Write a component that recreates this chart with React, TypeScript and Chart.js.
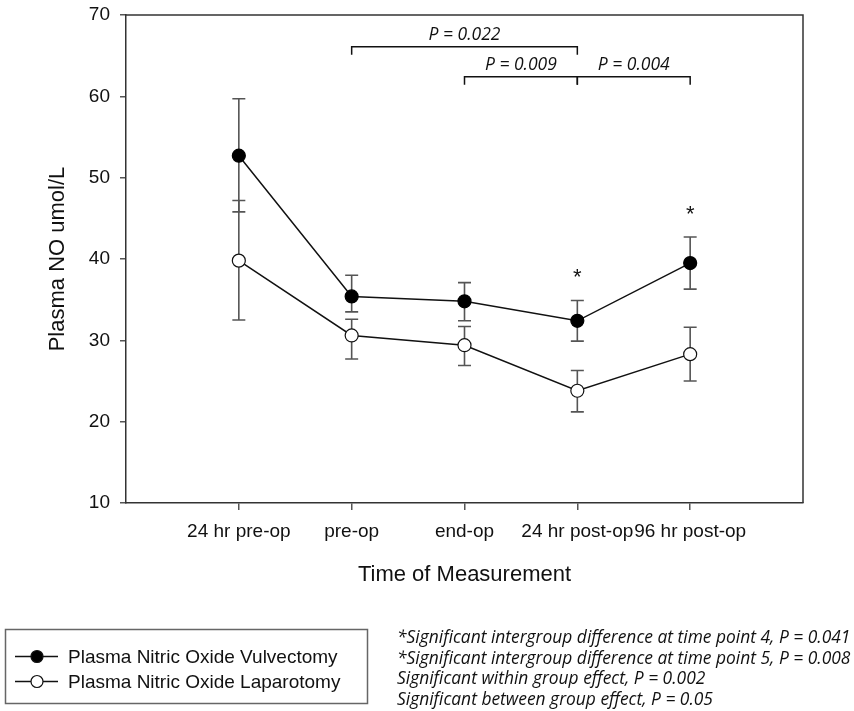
import React, { useEffect, useRef } from "react";
import { Chart, registerables } from "chart.js";

Chart.register(...registerables);

const categories = ["24 hr pre-op", "pre-op", "end-op", "24 hr post-op", "96 hr post-op"];
const vulvectomyMean = [52.7, 35.4, 34.8, 32.4, 39.5];
const vulvectomyHigh = [59.7, 38.0, 37.1, 34.9, 42.7];
const vulvectomyLow = [45.8, 33.5, 32.4, 29.9, 36.3];
const laparotomyMean = [39.8, 30.6, 29.4, 23.8, 28.3];
const laparotomyHigh = [47.2, 32.6, 31.7, 26.3, 31.6];
const laparotomyLow = [32.5, 27.7, 26.9, 21.2, 25.0];
const yTickValues = [10, 20, 30, 40, 50, 60, 70];
const seriesNames = ["Plasma Nitric Oxide Vulvectomy", "Plasma Nitric Oxide Laparotomy"];

const bracketFrom = [2, 3, 4];
const bracketTo = [4, 4, 5];
const bracketLevel = [66.1, 62.4, 62.4];
const bracketLabels = ["P = 0.022", "P = 0.009", "P = 0.004"];
const asteriskPoints = [4, 5];

const footnotes = [
  "*Significant intergroup difference at time point 4, P = 0.041",
  "*Significant intergroup difference at time point 5, P = 0.008",
  "Significant within group effect, P = 0.002",
  "Significant between group effect, P = 0.05",
];

const SANS = '"Liberation Sans", Arial, Helvetica, sans-serif';
const ITALIC_FAMILY = '"Open Sans", "Noto Sans", sans-serif';

const errorBarPlugin = {
  id: "errorBars",
  beforeDatasetsDraw(chart: any) {
    const { ctx, scales } = chart;
    const x = scales.x;
    const y = scales.y;
    const sets = [
      [vulvectomyHigh, vulvectomyLow],
      [laparotomyHigh, laparotomyLow],
    ];
    ctx.save();
    ctx.strokeStyle = "#555";
    ctx.lineWidth = 1.6;
    sets.forEach(([hi, lo]) => {
      hi.forEach((h, i) => {
        const px = x.getPixelForValue(i + 1);
        const pyH = y.getPixelForValue(h);
        const pyL = y.getPixelForValue(lo[i]);
        ctx.beginPath();
        ctx.moveTo(px, pyH);
        ctx.lineTo(px, pyL);
        ctx.moveTo(px - 6.5, pyH);
        ctx.lineTo(px + 6.5, pyH);
        ctx.moveTo(px - 6.5, pyL);
        ctx.lineTo(px + 6.5, pyL);
        ctx.stroke();
      });
    });
    ctx.restore();
  },
};

const annotationPlugin = {
  id: "annotations",
  afterDraw(chart: any) {
    const { ctx, scales, chartArea } = chart;
    const x = scales.x;
    const y = scales.y;
    ctx.save();
    // frame (top and right)
    ctx.strokeStyle = "#333";
    ctx.lineWidth = 1.5;
    ctx.beginPath();
    ctx.moveTo(chartArea.left, chartArea.top);
    ctx.lineTo(chartArea.right, chartArea.top);
    ctx.lineTo(chartArea.right, chartArea.bottom);
    ctx.stroke();

    // brackets
    ctx.strokeStyle = "#111";
    ctx.lineWidth = 1.5;
    ctx.fillStyle = "#111";
    ctx.font = `italic 17.5px ${ITALIC_FAMILY}`;
    ctx.textAlign = "center";
    ctx.textBaseline = "alphabetic";
    bracketFrom.forEach((f, i) => {
      const x1 = x.getPixelForValue(f);
      const x2 = x.getPixelForValue(bracketTo[i]);
      const py = y.getPixelForValue(bracketLevel[i]);
      ctx.beginPath();
      ctx.moveTo(x1, py + 8);
      ctx.lineTo(x1, py);
      ctx.lineTo(x2, py);
      ctx.lineTo(x2, py + 8);
      ctx.stroke();
      ctx.fillText(bracketLabels[i], (x1 + x2) / 2, py - 7);
    });

    // asterisks
    ctx.font = `22px ${SANS}`;
    ctx.textBaseline = "alphabetic";
    asteriskPoints.forEach((p) => {
      const px = x.getPixelForValue(p);
      const py = y.getPixelForValue(vulvectomyHigh[p - 1]);
      ctx.fillText("*", px, py - 16);
    });

    // legend box
    ctx.strokeStyle = "#666";
    ctx.lineWidth = 1.5;
    ctx.strokeRect(5.5, 629.5, 362, 74);
    const rows = [656.5, 681.5];
    const fills = ["#000", "#fff"];
    ctx.font = `19px ${SANS}`;
    ctx.textAlign = "left";
    ctx.textBaseline = "middle";
    rows.forEach((ry, i) => {
      ctx.strokeStyle = "#111";
      ctx.lineWidth = 1.5;
      ctx.beginPath();
      ctx.moveTo(15, ry);
      ctx.lineTo(58, ry);
      ctx.stroke();
      ctx.beginPath();
      ctx.arc(37, ry, 6, 0, Math.PI * 2);
      ctx.fillStyle = fills[i];
      ctx.fill();
      ctx.lineWidth = 1.2;
      ctx.stroke();
      ctx.fillStyle = "#111";
      ctx.fillText(seriesNames[i], 68, ry + 1);
    });
    ctx.restore();
  },
};

export default function App() {
  const canvasRef = useRef<HTMLCanvasElement>(null);

  useEffect(() => {
    const canvas = canvasRef.current;
    if (!canvas) return;
    const chart = new Chart(canvas, {
      type: "line",
      data: {
        datasets: [
          {
            label: seriesNames[0],
            data: vulvectomyMean.map((v, i) => ({ x: i + 1, y: v })),
            borderColor: "#111",
            borderWidth: 1.5,
            pointRadius: 6.5,
            pointBackgroundColor: "#000",
            pointBorderColor: "#000",
            pointBorderWidth: 1.2,
            fill: false,
            tension: 0,
          },
          {
            label: seriesNames[1],
            data: laparotomyMean.map((v, i) => ({ x: i + 1, y: v })),
            borderColor: "#111",
            borderWidth: 1.5,
            pointRadius: 6.5,
            pointBackgroundColor: "#fff",
            pointBorderColor: "#111",
            pointBorderWidth: 1.2,
            fill: false,
            tension: 0,
          },
        ],
      },
      options: {
        responsive: false,
        animation: false,
        layout: { padding: { left: 45, right: 51, top: 15, bottom: 123 } },
        plugins: { legend: { display: false }, tooltip: { enabled: false } },
        scales: {
          x: {
            type: "linear",
            min: 0,
            max: 6,
            afterBuildTicks: (axis: any) => {
              axis.ticks = categories.map((_, i) => ({ value: i + 1 }));
            },
            afterFit: (s: any) => {
              s.height = 85;
              s.paddingLeft = 0;
              s.paddingRight = 0;
            },
            ticks: {
              autoSkip: false,
              maxRotation: 0,
              minRotation: 0,
              padding: 10,
              color: "#111",
              font: { family: SANS, size: 19 },
              callback: (v: any) => categories[Number(v) - 1] ?? "",
            },
            grid: {
              display: true,
              drawOnChartArea: false,
              drawTicks: true,
              tickLength: 7,
              color: "#555",
              lineWidth: 1.5,
            },
            border: { display: true, color: "#333", width: 1.5 },
            title: {
              display: true,
              text: "Time of Measurement",
              color: "#111",
              font: { family: SANS, size: 22 },
              padding: { top: 0, bottom: 0 },
            },
          },
          y: {
            type: "linear",
            min: 10,
            max: 70,
            afterBuildTicks: (axis: any) => {
              axis.ticks = yTickValues.map((v) => ({ value: v }));
            },
            afterFit: (s: any) => {
              s.width = 81;
              s.paddingTop = 0;
              s.paddingBottom = 0;
            },
            ticks: {
              padding: 10,
              color: "#111",
              font: { family: SANS, size: 19 },
            },
            grid: {
              display: true,
              drawOnChartArea: false,
              drawTicks: true,
              tickLength: 6,
              color: "#555",
              lineWidth: 1.5,
            },
            border: { display: true, color: "#333", width: 1.5 },
            title: {
              display: true,
              text: "Plasma NO umol/L",
              color: "#111",
              font: { family: SANS, size: 22 },
              padding: { top: 0, bottom: 0 },
            },
          },
        },
      } as any,
      plugins: [errorBarPlugin, annotationPlugin],
    });
    return () => chart.destroy();
  }, []);

  return (
    <div style={{ position: "fixed", left: 0, top: 0, width: 854, height: 711, background: "#fff" }}>
      <canvas ref={canvasRef} width={854} height={711} style={{ width: 854, height: 711, display: "block" }} />
      <div
        style={{
          position: "absolute",
          left: 397,
          top: 626,
          fontFamily: ITALIC_FAMILY,
          fontStyle: "italic",
          fontSize: 17.4,
          lineHeight: "20.7px",
          color: "#111",
          whiteSpace: "nowrap",
        }}
      >
        {footnotes.map((t, i) => (
          <div key={i}>{t}</div>
        ))}
      </div>
    </div>
  );
}
